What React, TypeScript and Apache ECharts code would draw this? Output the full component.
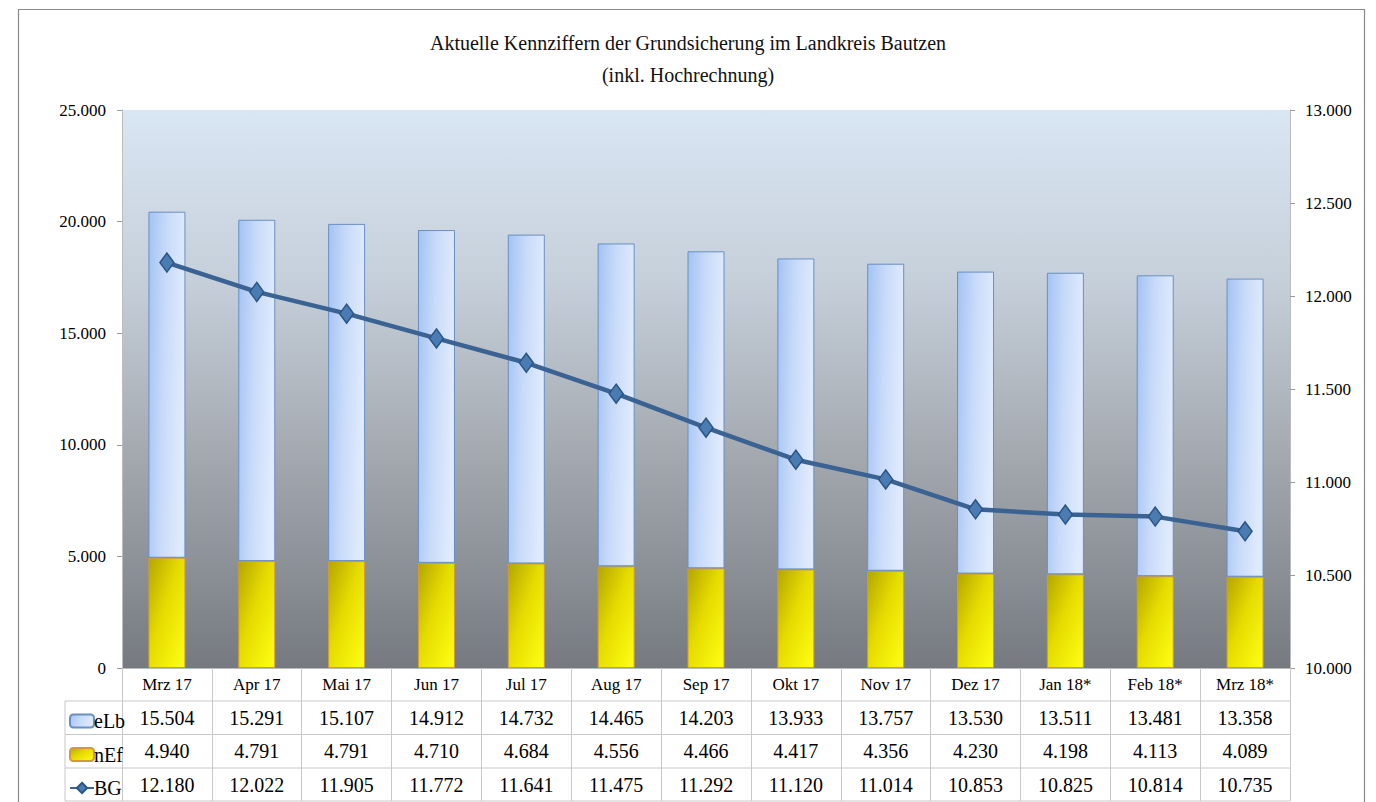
import React, { useEffect, useRef } from "react";
import * as echarts from "echarts";

const categories = ["Mrz 17", "Apr 17", "Mai 17", "Jun 17", "Jul 17", "Aug 17", "Sep 17", "Okt 17", "Nov 17", "Dez 17", "Jan 18*", "Feb 18*", "Mrz 18*"];
const eLb = [15504, 15291, 15107, 14912, 14732, 14465, 14203, 13933, 13757, 13530, 13511, 13481, 13358];
const nEf = [4940, 4791, 4791, 4710, 4684, 4556, 4466, 4417, 4356, 4230, 4198, 4113, 4089];
const BG = [12180, 12022, 11905, 11772, 11641, 11475, 11292, 11120, 11014, 10853, 10825, 10814, 10735];

const titleLine1 = "Aktuelle Kennziffern der Grundsicherung im Landkreis Bautzen";
const titleLine2 = "(inkl. Hochrechnung)";
const seriesNames = ["eLb", "nEf", "BG"];

const fmt = (n: number) => String(n).replace(/\B(?=(\d{3})+(?!\d))/g, ".");

const FONT = "'Liberation Serif', 'Times New Roman', serif";

export default function App() {
  const ref = useRef<HTMLDivElement>(null);
  useEffect(() => {
    if (!ref.current) return;
    const chart = echarts.init(ref.current, undefined, { renderer: "svg" });
    const gridLeft = 122;
    const gridRight = 1290;
    const tableLines = [701, 734.5, 768, 801];
    const rowTops = [706, 739.5, 773];
    const graphics: any[] = [
      {
        type: "rect",
        left: 16,
        top: 7,
        shape: { x: 0, y: 0, width: 1346, height: 810 },
        style: { fill: "none", stroke: "#8a8a8a", lineWidth: 1.2 },
        silent: true,
        z: -10,
      },
      ...tableLines.map((y) => ({
        type: "line",
        shape: { x1: 65, y1: y, x2: gridRight, y2: y },
        style: { stroke: "#c8c8c8", lineWidth: 1 },
        silent: true,
      })),
      {
        type: "line",
        shape: { x1: 65, y1: 701, x2: 65, y2: 801 },
        style: { stroke: "#c8c8c8", lineWidth: 1 },
        silent: true,
      },
    ];

    const legends = seriesNames.map((name, i) => ({
      orient: "horizontal",
      left: 64,
      top: rowTops[i],
      itemWidth: 24,
      itemHeight: 13,
      itemGap: 0,
      data: [name],
      textStyle: { fontFamily: FONT, fontSize: 20, color: "#000", padding: [0, 0, 0, -5] },
      selectedMode: false,
    }));

    chart.setOption({
      animation: false,
      backgroundColor: "#ffffff",
      textStyle: { fontFamily: FONT },
      title: {
        text: titleLine1 + "\n" + titleLine2,
        left: "center",
        top: 22,
        textStyle: { fontFamily: FONT, fontSize: 20, fontWeight: "normal", color: "#111", lineHeight: 32 },
      },
      legend: legends,
      grid: {
        left: gridLeft,
        top: 110,
        width: gridRight - gridLeft,
        height: 558,
        show: true,
        borderWidth: 0,
        backgroundColor: new echarts.graphic.LinearGradient(0, 0, 0, 1, [
          { offset: 0, color: "#d9e6f3" },
          { offset: 0.3, color: "#c6d0db" },
          { offset: 0.6, color: "#a6abb2" },
          { offset: 1, color: "#767a80" },
        ]),
      },
      xAxis: {
        type: "category",
        data: categories,
        axisLine: { show: true, lineStyle: { color: "#bcbcbc", width: 1 } },
        axisTick: { show: true, length: 133, lineStyle: { color: "#c8c8c8", width: 1 } },
        axisLabel: {
          margin: 0,
          interval: 0,
          fontFamily: FONT,
          color: "#000",
          formatter: (value: string, index: number) =>
            `{c|${value}}\n{n|${fmt(eLb[index])}}\n{n|${fmt(nEf[index])}}\n{n|${fmt(BG[index])}}`,
          rich: {
            c: { fontFamily: FONT, fontSize: 17, lineHeight: 33.3, color: "#000" },
            n: { fontFamily: FONT, fontSize: 20, lineHeight: 33.3, color: "#000" },
          },
        },
        splitLine: { show: false },
      },
      yAxis: [
        {
          type: "value",
          min: 0,
          max: 25000,
          interval: 5000,
          axisLine: { show: true, lineStyle: { color: "#bcbcbc" } },
          axisTick: { show: true, length: 5, lineStyle: { color: "#9a9a9a" } },
          axisLabel: { fontFamily: FONT, fontSize: 17, color: "#000", margin: 16, formatter: (v: number) => fmt(v) },
          splitLine: { show: false },
        },
        {
          type: "value",
          min: 10000,
          max: 13000,
          interval: 500,
          position: "right",
          axisLine: { show: true, lineStyle: { color: "#bcbcbc" } },
          axisTick: { show: true, length: 5, lineStyle: { color: "#9a9a9a" } },
          axisLabel: { fontFamily: FONT, fontSize: 17, color: "#000", margin: 15, formatter: (v: number) => fmt(v) },
          splitLine: { show: false },
        },
      ],
      series: [
        {
          name: "nEf",
          type: "bar",
          stack: "total",
          yAxisIndex: 0,
          barWidth: 37,
          data: nEf,
          itemStyle: {
            color: new echarts.graphic.LinearGradient(0, 0, 1, 1, [
              { offset: 0, color: "#b3a600" },
              { offset: 0.45, color: "#e6dc00" },
              { offset: 1, color: "#ffff14" },
            ]),
            borderColor: "#d39a3c",
            borderWidth: 1,
          },
        },
        {
          name: "eLb",
          type: "bar",
          stack: "total",
          yAxisIndex: 0,
          barWidth: 37,
          data: eLb,
          itemStyle: {
            color: new echarts.graphic.LinearGradient(0, 0, 1, 0.2, [
              { offset: 0, color: "#a3c3f3" },
              { offset: 0.5, color: "#c9dbfa" },
              { offset: 1, color: "#dfeafd" },
            ]),
            borderColor: "#6a8fc3",
            borderWidth: 1,
          },
        },
        {
          name: "BG",
          type: "line",
          yAxisIndex: 1,
          data: BG,
          symbol: "diamond",
          symbolSize: [14, 19],
          lineStyle: { color: "#3a6292", width: 4.5 },
          itemStyle: { color: "#4a7bb3", borderColor: "#2c5484", borderWidth: 1.5 },
          z: 5,
        },
      ],
      graphic: graphics,
    });
    return () => chart.dispose();
  }, []);
  return <div ref={ref} style={{ position: "fixed", left: 0, top: 0, width: 1376, height: 802 }} />;
}
